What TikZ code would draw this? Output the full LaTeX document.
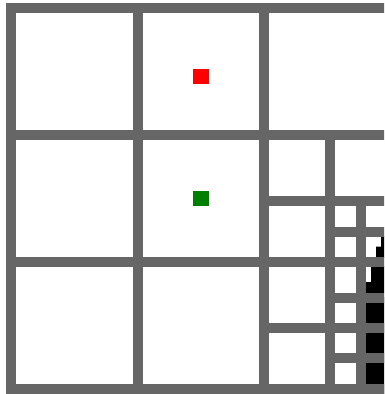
\documentclass[tikz,border=0pt]{standalone}
\definecolor{gridgray}{RGB}{102,102,102}
\definecolor{mkred}{RGB}{255,0,0}
\definecolor{mkgreen}{RGB}{0,128,0}
\tikzset{gridline/.style={draw=gridgray,line width=10pt,line cap=rect},
         obstacle/.style={fill=black}}
\begin{document}
\begin{tikzpicture}[x=1pt,y=-1pt]
\useasboundingbox (0,0) rectangle (384,394);
\clip (0,0) rectangle (384,394);
\fill[white] (0,0) rectangle (384,394);
% obstacles
\fill[obstacle] (381,236) -- (386,236) -- (386,258) -- (376,258) -- (376,246.7) -- (381,246.7) -- cycle;
\fill[obstacle] (371,266) -- (386,266) -- (386,293) -- (366,293) -- (366,282) -- (371,282) -- cycle;
\fill[obstacle] (366,297) rectangle (386,394);
% markers
\fill[mkred] (193,69) rectangle (209,84.3);
\fill[mkgreen] (193,190.7) rectangle (209,206);
% main grid
\draw[gridline] (11,8) -- (11,389);
\draw[gridline] (138,8) -- (138,389);
\draw[gridline] (264,8) -- (264,389);
\draw[gridline] (11,8) -- (390,8);
\draw[gridline] (11,134.7) -- (390,134.7);
\draw[gridline] (11,261.5) -- (390,261.5);
\draw[gridline] (11,389) -- (390,389);
% subdivisions
\draw[gridline] (330,134.7) -- (330,389);
\draw[gridline] (264,201) -- (390,201);
\draw[gridline] (264,328) -- (390,328);
\draw[gridline] (361,201) -- (361,389);
\draw[gridline] (330,231.7) -- (390,231.7);
\draw[gridline] (330,297.7) -- (390,297.7);
\draw[gridline] (330,358.3) -- (390,358.3);
\end{tikzpicture}
\end{document}
